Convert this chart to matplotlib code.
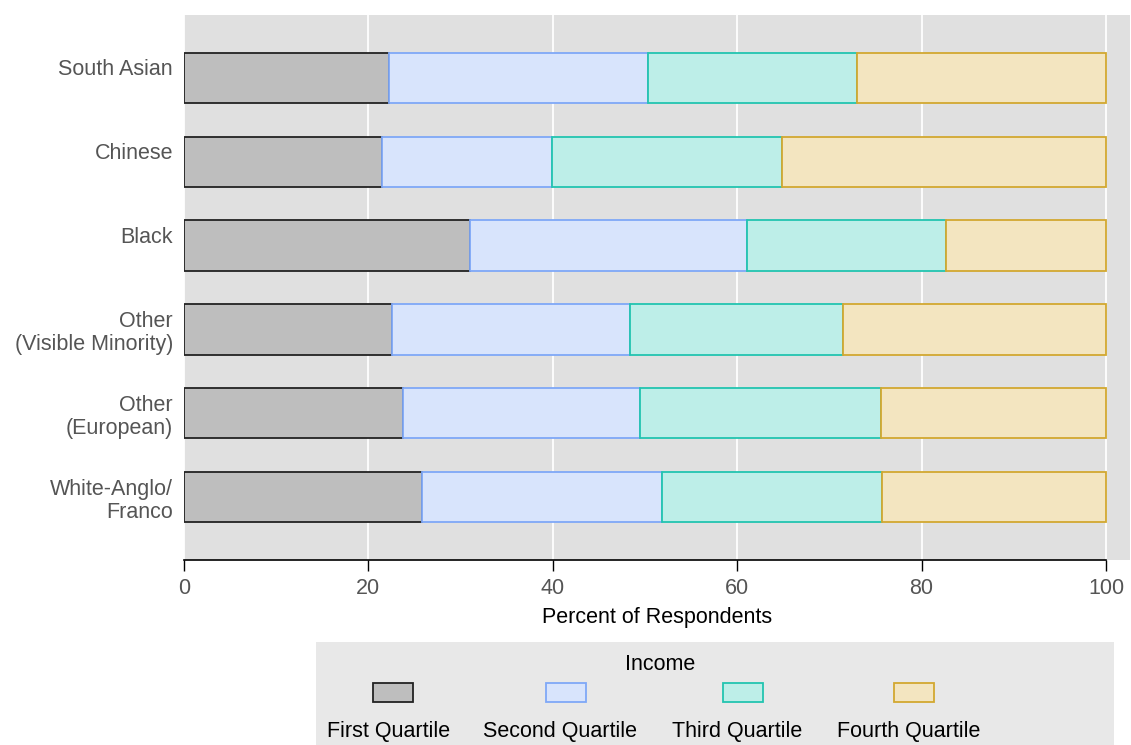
import matplotlib.pyplot as plt
from matplotlib.patches import Rectangle
import numpy as np

plt.rcParams['font.family'] = ['Liberation Sans', 'DejaVu Sans']

# groups from bottom to top (single-line names keep an empty second line, as in the original)
groups = ['White-Anglo/\nFranco', 'Other\n(European)', 'Other\n(Visible Minority)',
          'Black\n ', 'Chinese\n ', 'South Asian\n ']
quartiles = ['First Quartile', 'Second Quartile', 'Third Quartile', 'Fourth Quartile']
q1 = [25.8, 23.7, 22.6, 31.0, 21.5, 22.2]
q2 = [26.0, 25.8, 25.8, 30.1, 18.4, 28.1]
q3 = [23.9, 26.1, 23.1, 21.5, 25.0, 22.7]
q4 = [24.3, 24.4, 28.5, 17.4, 35.1, 27.0]

fills = ['#bebebe', '#d8e4fc', '#bdeee8', '#f3e5c0']
edges = ['#222222', '#7fa8f7', '#22c4b0', '#d2a830']

fs = 15.5

fig = plt.figure(figsize=(11.31, 7.45), dpi=100)
ax = fig.add_axes([0.1627, 0.2483, 0.8364, 0.7316])
ax.set_facecolor('#e0e0e0')

y = np.arange(len(groups))
left = np.zeros(len(groups))
for vals, fc, ec, lab in zip([q1, q2, q3, q4], fills, edges, quartiles):
    ax.barh(y, vals, left=left, height=0.6, color=fc, edgecolor=ec,
            linewidth=1.3, label=lab, zorder=3)
    left += np.array(vals)

ax.set_xlim(0, 102.6)
ax.set_ylim(-0.75, 5.75)
ax.set_yticks(y)
ax.set_yticklabels(groups, fontsize=fs, color='#555555', linespacing=1.15)
ax.set_xticks([0, 20, 40, 60, 80, 100])
ax.tick_params(axis='x', labelsize=fs, labelcolor='#555555', length=8, width=1,
               color='black', pad=5)
ax.tick_params(axis='y', length=0, pad=8)
ax.grid(axis='x', color='white', linewidth=1.3, zorder=0)
for s in ['top', 'right', 'left']:
    ax.spines[s].set_visible(False)
ax.spines['bottom'].set_bounds(0, 100)
ax.spines['bottom'].set_linewidth(1.2)
ax.set_xlabel('Percent of Respondents', fontsize=fs, labelpad=6)

# legend box, labels under the keys
lax = fig.add_axes([316 / 1131, 0, 798 / 1131, 103 / 745])
lax.set_xlim(316, 1114)
lax.set_ylim(745, 642)
lax.set_facecolor('#e8e8e8')
for s in lax.spines.values():
    s.set_visible(False)
lax.set_xticks([])
lax.set_yticks([])
lax.text(660, 665, 'Income', ha='center', va='center', fontsize=fs)
key_x = [393, 566, 743, 914]
lab_x = [389, 560, 737, 909]
for kx, lx, fc, ec, lab in zip(key_x, lab_x, fills, edges, quartiles):
    lax.add_patch(Rectangle((kx - 20, 683), 40, 19, facecolor=fc, edgecolor=ec, linewidth=1.3))
    lax.text(lx, 731, lab, ha='center', va='center', fontsize=fs)

fig.savefig('out.png', dpi=100)
